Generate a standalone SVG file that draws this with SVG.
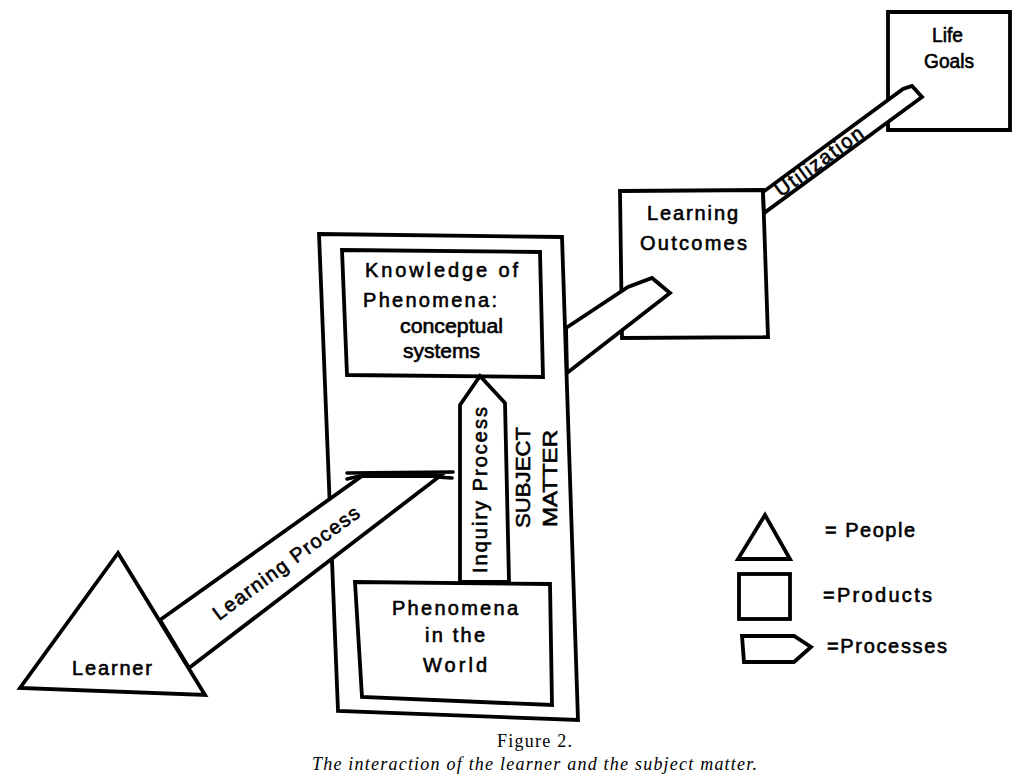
<svg xmlns="http://www.w3.org/2000/svg" width="1024" height="781" viewBox="0 0 1024 781">
  <style>
    .sh { fill: #fff; stroke: #000; stroke-width: 3.8; stroke-linejoin: miter; }
    .ln { fill: none; stroke: #000; stroke-width: 3.6; stroke-linecap: round; }
    .t { font-family: "Liberation Sans", Arial, sans-serif; font-size: 20px; fill: #000; stroke: #000; stroke-width: 0.6; }
    .tb { font-family: "Liberation Sans", Arial, sans-serif; font-size: 21px; fill: #000; stroke: #000; stroke-width: 0.6; }
    .cap { font-family: "Liberation Serif", "Times New Roman", serif; font-size: 18px; fill: #000; }
  </style>
  <rect width="1024" height="781" fill="#fff"/>

  <g id="subject-matter">
    <polygon class="sh" points="319,234 562,237 578,720 338,711"/>
    <text class="tb" transform="translate(530,528) rotate(-90)" textLength="101" lengthAdjust="spacingAndGlyphs">SUBJECT</text>
    <text class="tb" transform="translate(557,527) rotate(-90)" textLength="97" lengthAdjust="spacingAndGlyphs">MATTER</text>
  </g>

  <g id="knowledge">
    <polygon class="sh" points="342,250 540,252 543,377 347,375"/>
    <text class="t" x="365" y="277" textLength="153" lengthAdjust="spacing">Knowledge  of</text>
    <text class="t" x="363" y="307" textLength="134" lengthAdjust="spacing">Phenomena:</text>
    <text class="t" x="400" y="333" textLength="103" lengthAdjust="spacingAndGlyphs">conceptual</text>
    <text class="t" x="403" y="358" textLength="77" lengthAdjust="spacingAndGlyphs">systems</text>
  </g>

  <g id="phenomena">
    <polygon class="sh" points="355,582 550,584 552,705 362,697"/>
    <text class="t" x="392" y="615" textLength="126" lengthAdjust="spacing">Phenomena</text>
    <text class="t" x="425" y="642" textLength="60" lengthAdjust="spacing">in the</text>
    <text class="t" x="423" y="672" textLength="64" lengthAdjust="spacing">World</text>
  </g>

  <g id="learning-outcomes">
    <polygon class="sh" points="620,191 763,190 768,337 622,338"/>
    <text class="t" x="647" y="220" textLength="91" lengthAdjust="spacing">Learning</text>
    <text class="t" x="640" y="250" textLength="107" lengthAdjust="spacing">Outcomes</text>
  </g>

  <g id="life-goals">
    <polygon class="sh" points="888,12 1010,12 1010,130 888,130"/>
    <text class="t" x="932" y="42" textLength="31" lengthAdjust="spacingAndGlyphs">Life</text>
    <text class="t" x="924" y="68" textLength="50" lengthAdjust="spacingAndGlyphs">Goals</text>
  </g>

  <g id="connectors">
    <g id="inquiry-process">
      <polygon class="sh" points="460,582 460,405 480,376 505,403 509,582"/>
      <text class="t" transform="translate(487,573) rotate(-90)" textLength="166" lengthAdjust="spacing">Inquiry Process</text>
    </g>
    <g id="learning-process">
      <polygon class="sh" points="160,620 362,476 440,476 189,668"/>
      <line class="ln" x1="347" y1="473" x2="453" y2="472"/>
      <line class="ln" x1="347" y1="479" x2="360" y2="476"/>
      <line class="ln" x1="436" y1="477" x2="452" y2="478"/>
      <text class="t" transform="translate(219,621) rotate(-36.5)" textLength="177" lengthAdjust="spacing">Learning Process</text>
    </g>
    <g id="to-outcomes">
      <polygon class="sh" points="566,328 628,287 652,278 670,293 567,373"/>
    </g>
    <g id="utilization">
      <polygon class="sh" points="763,192 903,89 912,86 922,97 764,213"/>
      <text class="t" font-size="16" stroke-width="0.5" transform="translate(781,197.5) rotate(-36.2)" textLength="104" lengthAdjust="spacing">Utilization</text>
    </g>
  </g>

  <g id="learner">
    <polygon class="sh" points="118,553 20,688 205,695"/>
    <text class="t" x="72" y="675" textLength="80" lengthAdjust="spacing">Learner</text>
  </g>

  <g id="legend">
    <polygon class="sh" points="765,515 738,559 790,559"/>
    <text class="t" x="825" y="537" textLength="90" lengthAdjust="spacing">= People</text>
    <rect class="sh" x="739" y="574" width="51" height="45"/>
    <text class="t" x="823" y="602" textLength="109" lengthAdjust="spacing">=Products</text>
    <polygon class="sh" points="742,636 794,636 811,647 794,662 744,662"/>
    <text class="t" x="827" y="653" textLength="120" lengthAdjust="spacing">=Processes</text>
  </g>

  <g id="caption">
    <text class="cap" x="534.5" y="747" text-anchor="middle" textLength="75" lengthAdjust="spacing">Figure 2.</text>
    <text class="cap" x="534.5" y="770" text-anchor="middle" font-style="italic" textLength="445" lengthAdjust="spacing">The interaction of the learner and the subject matter.</text>
  </g>
</svg>
